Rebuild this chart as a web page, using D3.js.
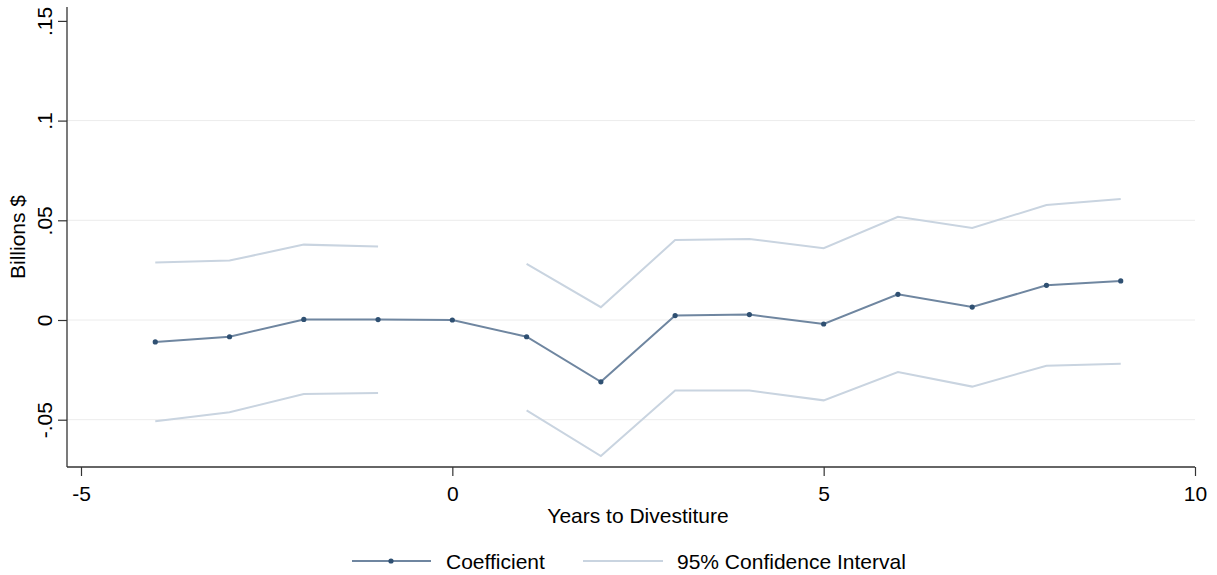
<!DOCTYPE html>
<html>
<head>
<meta charset="utf-8">
<script src="https://cdn.jsdelivr.net/npm/d3@7"></script>
<style>
html,body{margin:0;padding:0;background:#fff;}
svg{display:block;font-family:"Liberation Sans",Arial,Helvetica,sans-serif;}
</style>
</head>
<body>
<svg id="chart" width="1217" height="575"></svg>
<script>
const years = [-4,-3,-2,-1,0,1,2,3,4,5,6,7,8,9];
const coefficient = [-0.0110,-0.0084,0.0003,0.0002,0.0000,-0.0084,-0.0310,0.0022,0.0027,-0.0020,0.0129,0.0065,0.0174,0.0196];
const ciUpper = [0.0288,0.0298,0.0378,0.0368,null,0.0281,0.0064,0.0401,0.0406,0.0360,0.0518,0.0461,0.0577,0.0607];
const ciLower = [-0.0508,-0.0463,-0.0371,-0.0366,null,-0.0453,-0.0682,-0.0354,-0.0354,-0.0403,-0.0261,-0.0334,-0.0229,-0.0219];
const xTicks = [-5,0,5,10];
const yTicks = [-0.05,0,0.05,0.1,0.15];
const yTickLabels = ["-.05","0",".05",".1",".15"];
const gridTicks = [-0.05,0,0.05,0.1];
const legendLabels = ["Coefficient","95% Confidence Interval"];

(function(){
const svg = d3.select("#chart");
const pL = 67, pR = 1195, pT = 7, pB = 467;
const FS = 21;
const x = d3.scaleLinear().domain([-5,10]).range([81,1195]);
const y = d3.scaleLinear().domain([0,0.1]).range([320,120.6]);

const coefColor = "#6f86a0", markerColor = "#2f5072", ciColor = "#c9d4e0", gridColor = "#ececec", axisColor = "#333";

// gridlines
svg.append("g").selectAll("line").data(gridTicks).join("line")
  .attr("x1",pL).attr("x2",pR)
  .attr("y1",d=>y(d)).attr("y2",d=>y(d))
  .attr("stroke",gridColor).attr("stroke-width",1);

// Y axis
const yAxis = d3.axisLeft(y).tickValues(yTicks).tickSize(9)
  .tickFormat((d,i)=>yTickLabels[i]);
const gy = svg.append("g").attr("transform",`translate(${pL},0)`).call(yAxis);
gy.select(".domain").attr("d",`M0,${pT}V${pB}`).attr("stroke",axisColor).attr("stroke-width",1.3);
gy.selectAll(".tick line").attr("stroke",axisColor).attr("stroke-width",1.2);
gy.selectAll(".tick text").attr("font-size",FS).attr("fill","#000")
  .attr("text-anchor","middle")
  .attr("transform","translate(-15,0) rotate(-90)").attr("x",0).attr("y",0).attr("dy","0em");

// X axis
const xAxis = d3.axisBottom(x).tickValues(xTicks).tickSize(9).tickFormat(d=>d<0?"-"+Math.abs(d):String(d));
const gx = svg.append("g").attr("transform",`translate(0,${pB})`).call(xAxis);
gx.select(".domain").attr("d",`M${pL},0H${pR}`).attr("stroke",axisColor).attr("stroke-width",1.3);
gx.selectAll(".tick line").attr("stroke",axisColor).attr("stroke-width",1.2);
gx.selectAll(".tick text").attr("font-size",FS).attr("fill","#000").attr("y",19).attr("dy","0.71em");

// titles
svg.append("text").attr("x",(x.range()[0]+x.range()[1])/2).attr("y",523).attr("text-anchor","middle")
  .attr("font-size",FS).text("Years to Divestiture");
svg.append("text").attr("transform",`translate(25,${(pT+pB)/2}) rotate(-90)`)
  .attr("text-anchor","middle").attr("font-size",FS).text("Billions $");

// CI lines
const ciLine = d3.line().defined(d=>d[1]!==null).x(d=>x(d[0])).y(d=>y(d[1]));
[ciUpper,ciLower].forEach(arr=>{
  svg.append("path").datum(years.map((yr,i)=>[yr,arr[i]]))
    .attr("d",ciLine).attr("fill","none").attr("stroke",ciColor).attr("stroke-width",2);
});

// coefficient
const coefLine = d3.line().x(d=>x(d[0])).y(d=>y(d[1]));
svg.append("path").datum(years.map((yr,i)=>[yr,coefficient[i]]))
  .attr("d",coefLine).attr("fill","none").attr("stroke",coefColor).attr("stroke-width",2);
svg.append("g").selectAll("circle").data(years.map((yr,i)=>[yr,coefficient[i]])).join("circle")
  .attr("cx",d=>x(d[0])).attr("cy",d=>y(d[1])).attr("r",2.6).attr("fill",markerColor);

// legend
const ly = 561, lty = 569;
const lg = svg.append("g");
lg.append("line").attr("x1",352).attr("x2",431).attr("y1",ly).attr("y2",ly).attr("stroke",coefColor).attr("stroke-width",2);
lg.append("circle").attr("cx",391).attr("cy",ly).attr("r",2.6).attr("fill",markerColor);
lg.append("text").attr("x",446).attr("y",lty).attr("font-size",FS).text(legendLabels[0]);
lg.append("line").attr("x1",583).attr("x2",663).attr("y1",ly).attr("y2",ly).attr("stroke",ciColor).attr("stroke-width",2);
lg.append("text").attr("x",677).attr("y",lty).attr("font-size",FS).text(legendLabels[1]);
})();
</script>
</body>
</html>
